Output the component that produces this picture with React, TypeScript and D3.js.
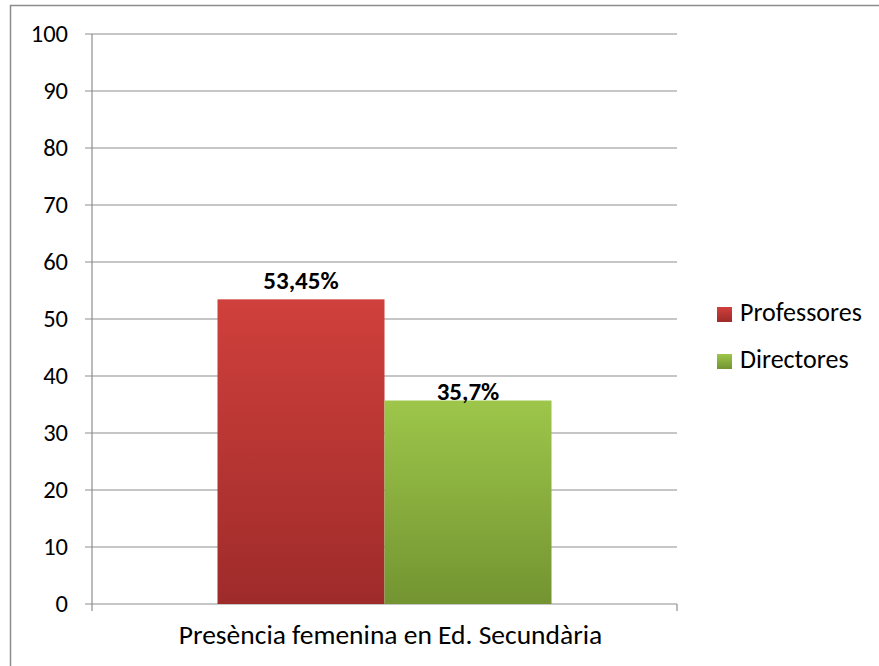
import React from "react";
import * as d3 from "d3";

const categories = ["Presència femenina en Ed. Secundària"];
const seriesNames = ["Professores", "Directores"];
const values = [53.45, 35.7];
const valueLabels = ["53,45%", "35,7%"];
const yTicks = [0, 10, 20, 30, 40, 50, 60, 70, 80, 90, 100];

const W = 879, H = 666;
const left = 92, right = 677, top = 34, bottom = 604;
const font = "Carlito, Lato, 'Open Sans', sans-serif";

export default function App() {
  const y = d3.scaleLinear().domain([0, 100]).range([bottom, top]);
  const x0 = d3.scaleBand().domain(categories).range([left, right]).paddingInner(0).paddingOuter(0.3757);
  const x1 = d3.scaleBand().domain(seriesNames).range([0, x0.bandwidth()]).padding(0);
  const colors = [["#D0403C", "#9E2B2A"], ["#9DC64A", "#739431"]];
  const labelOff = [10, 1];
  return (
    <svg width={W} height={H} style={{ position: "absolute", left: 0, top: 0, background: "#fff" }}>
      <defs>
        {colors.map((c, i) => (
          <linearGradient key={i} id={`g${i}`} x1="0" y1="0" x2="0" y2="1">
            <stop offset="0" stopColor={c[0]} />
            <stop offset="1" stopColor={c[1]} />
          </linearGradient>
        ))}
      </defs>
      <rect x={10.5} y={5.5} width={W + 20} height={H + 20} fill="none" stroke="#8c8c8c" strokeWidth={1.5} />
      {yTicks.map((t) => (
        <g key={t}>
          <line x1={left - 7} x2={right} y1={y(t)} y2={y(t)} stroke="#8e8e8e" strokeWidth={1.2} />
          <text x={68} y={y(t) + 8} textAnchor="end" fontFamily={font} fontSize={24.5} fill="#000">{t}</text>
        </g>
      ))}
      <line x1={left} x2={left} y1={top} y2={bottom} stroke="#8e8e8e" strokeWidth={1.2} />
      <line x1={left} x2={left} y1={bottom} y2={bottom + 7} stroke="#8e8e8e" strokeWidth={1.2} />
      <line x1={right} x2={right} y1={bottom} y2={bottom + 7} stroke="#8e8e8e" strokeWidth={1.2} />
      {categories.map((c) => (
        <g key={c}>
          {values.map((v, i) => {
            const bx = (x0(c) as number) + (x1(seriesNames[i]) as number);
            return (
              <rect key={i} x={bx} y={y(v)} width={x1.bandwidth()} height={y(0) - y(v)} fill={`url(#g${i})`} />
            );
          })}
          {values.map((v, i) => {
            const bx = (x0(c) as number) + (x1(seriesNames[i]) as number);
            return (
              <text key={i} x={bx + x1.bandwidth() / 2} y={y(v) - labelOff[i]} textAnchor="middle" fontFamily={font} fontSize={25} fontWeight="bold" fill="#000">{valueLabels[i]}</text>
            );
          })}
          <text x={(x0(c) as number) + x0.bandwidth() / 2 + 6} y={644} textAnchor="middle" fontFamily={font} fontSize={27.5} fill="#000">{c}</text>
        </g>
      ))}
      {seriesNames.map((s, i) => (
        <g key={s} transform={`translate(717, ${307 + i * 47})`}>
          <rect x={0} y={0} width={15} height={15} fill={`url(#g${i})`} />
          <text x={23} y={14} fontFamily={font} fontSize={26} fill="#000">{s}</text>
        </g>
      ))}
    </svg>
  );
}
